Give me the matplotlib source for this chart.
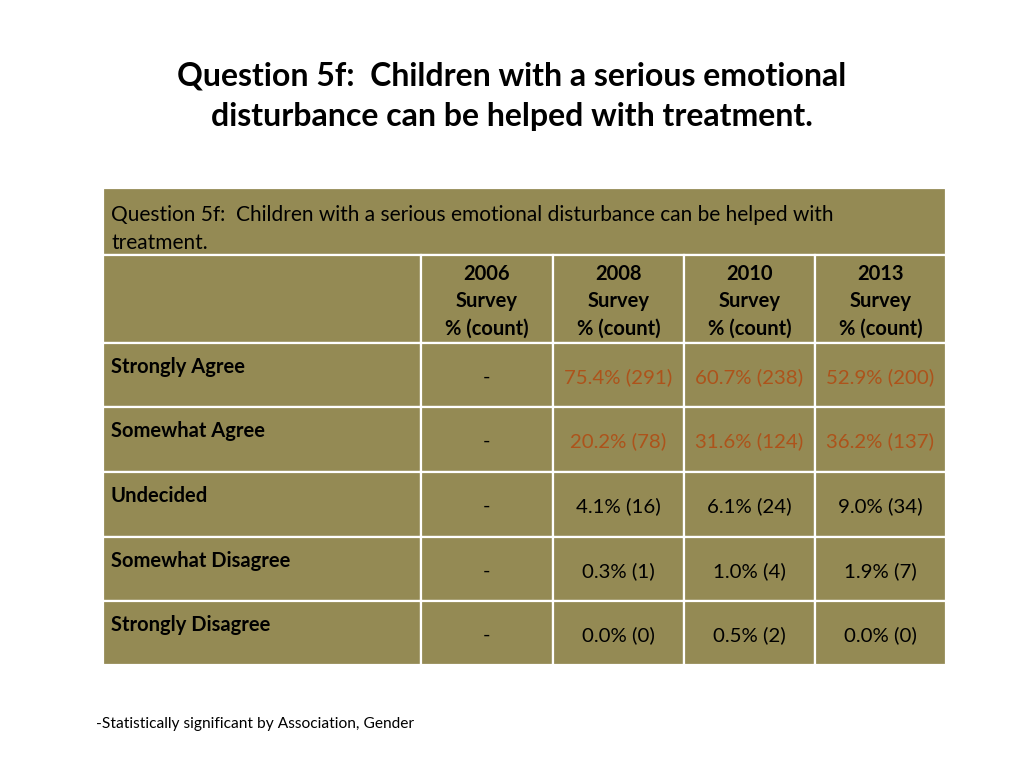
import matplotlib.pyplot as plt
from matplotlib.patches import Rectangle

plt.rcParams['font.family'] = ['Lato', 'DejaVu Sans']

title = "Question 5f:  Children with a serious emotional\ndisturbance can be helped with treatment."
table_title = "Question 5f:  Children with a serious emotional disturbance can be helped with\ntreatment."
years = ["2006", "2008", "2010", "2013"]
responses = ["Strongly Agree", "Somewhat Agree", "Undecided",
             "Somewhat Disagree", "Strongly Disagree"]
pct = [
    [None, 75.4, 60.7, 52.9],
    [None, 20.2, 31.6, 36.2],
    [None, 4.1, 6.1, 9.0],
    [None, 0.3, 1.0, 1.9],
    [None, 0.0, 0.5, 0.0],
]
counts = [
    [None, 291, 238, 200],
    [None, 78, 124, 137],
    [None, 16, 24, 34],
    [None, 1, 4, 7],
    [None, 0, 2, 0],
]
highlight_rows = [0, 1]
footnote = "-Statistically significant by Association, Gender"

bg = "#948a54"
hl = "#ad531b"

fig = plt.figure(figsize=(10.24, 7.68), dpi=100)
ax = fig.add_axes([0, 0, 1, 1])
ax.set_xlim(0, 1024)
ax.set_ylim(768, 0)
ax.axis("off")

col_x = [103, 421, 553, 684, 815, 946]
row_y = [188, 255, 343, 407, 472, 537, 601, 665]

def cell(x0, x1, y0, y1):
    ax.add_patch(Rectangle((x0, y0), x1 - x0, y1 - y0, facecolor=bg,
                           edgecolor="white", linewidth=1.6))

ax.text(512, 96, title, ha="center", va="center", fontsize=23,
        fontweight="bold", linespacing=1.5)

# table title row
cell(col_x[0], col_x[-1], row_y[0], row_y[1])
ax.text(111, 229, table_title, ha="left", va="center", fontsize=15,
        linespacing=1.45)

# header row
cell(col_x[0], col_x[1], row_y[1], row_y[2])
for j, yr in enumerate(years):
    x0, x1 = col_x[j + 1], col_x[j + 2]
    cell(x0, x1, row_y[1], row_y[2])
    ax.text((x0 + x1) / 2, 301, f"{yr}\nSurvey\n% (count)", ha="center",
            va="center", fontsize=14.5, fontweight="bold", linespacing=1.45)

# data rows
for i, resp in enumerate(responses):
    y0, y1 = row_y[i + 2], row_y[i + 3]
    cell(col_x[0], col_x[1], y0, y1)
    ax.text(111, y0 + 24, resp, ha="left", va="center", fontsize=14.5,
            fontweight="bold")
    for j in range(len(years)):
        x0, x1 = col_x[j + 1], col_x[j + 2]
        cell(x0, x1, y0, y1)
        if pct[i][j] is None:
            s = "-"
            c = "black"
        else:
            s = f"{pct[i][j]:.1f}% ({counts[i][j]})"
            c = hl if i in highlight_rows else "black"
        ax.text((x0 + x1) / 2, (y0 + y1) / 2 + 2, s, ha="center",
                va="center", fontsize=14.7, color=c)

ax.text(96, 724, footnote, ha="left", va="center", fontsize=11.2)

fig.savefig("out.png", dpi=100)
